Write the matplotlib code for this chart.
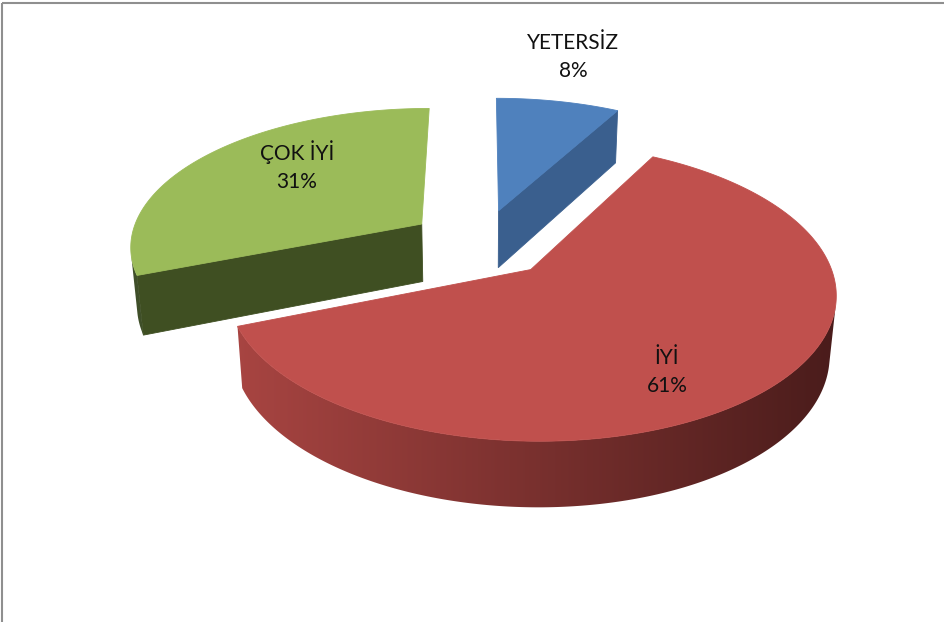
import numpy
import matplotlib
matplotlib.use('Agg')
from matplotlib import pyplot
from matplotlib.patches import Polygon, Rectangle

# data (clockwise from 12 o'clock)
CATEGORIES = ['YETERSİZ', 'İYİ', 'ÇOK İYİ']
PERCENTS = [8, 61, 31]
PCT_LABELS = ['8%', '61%', '31%']

# styling
TOP_COLORS = ['#4F81BD', '#C0504D', '#9BBB59']
WALL_LIGHT = ['#3B6192', '#A94542', '#40502A']
WALL_DARK = ['#2F4E76', '#4A1C1B', '#3B4A20']
SIDE_COLORS = ['#3A5F8E', '#8A3835', '#3F4F22']
LABEL_POS = [(573, 57), (667, 372), (297, 166)]

# view / geometry (pixel space of a 944x622 canvas)
CX, CY = 481.0, 243.0
FOCAL = 1755.0
DIST = 6.0
ELEV = numpy.radians(28.1)
EXPLODE = 0.25
THICK = 0.23

S, C = numpy.sin(ELEV), numpy.cos(ELEV)
CAM = numpy.array([0.0, -DIST * C, DIST * S])


def project(X, Y, Z):
    X, Y, Z = numpy.asarray(X), numpy.asarray(Y), numpy.asarray(Z)
    w = DIST + Y * C - Z * S
    return CX + FOCAL * X / w, CY - FOCAL * (Y * S + Z * C) / w


def _blend(c1, c2, t):
    a = numpy.array(matplotlib.colors.to_rgb(c1))
    b = numpy.array(matplotlib.colors.to_rgb(c2))
    return a * (1 - t) + b * t


def _facing(normal, point):
    v = CAM - point
    return normal.dot(v) / numpy.linalg.norm(v)


def draw_slice(ax, a0, a1, i):
    mid = (a0 + a1) / 2
    ox, oy = EXPLODE * numpy.sin(mid), EXPLODE * numpy.cos(mid)

    # radial walls that face the camera
    for a, sign in ((a0, -1), (a1, 1)):
        na = a + sign * numpy.pi / 2
        normal = numpy.array([numpy.sin(na), numpy.cos(na), 0.0])
        mid_pt = numpy.array([ox + 0.5 * numpy.sin(a), oy + 0.5 * numpy.cos(a), -THICK / 2])
        if _facing(normal, mid_pt) < 0.1:
            continue
        X = [ox, ox + numpy.sin(a), ox + numpy.sin(a), ox]
        Y = [oy, oy + numpy.cos(a), oy + numpy.cos(a), oy]
        Z = [0, 0, -THICK, -THICK]
        xs, ys = project(X, Y, Z)
        ax.add_patch(Polygon(numpy.column_stack([xs, ys]), closed=True,
                             facecolor=SIDE_COLORS[i], edgecolor=SIDE_COLORS[i],
                             linewidth=0.6, zorder=2))

    # outer curved wall, the part facing the camera, shaded left to right
    th = numpy.linspace(a0, a1, max(int(numpy.degrees(a1 - a0)) * 2, 4))
    vis = [t for t in th
           if _facing(numpy.array([numpy.sin(t), numpy.cos(t), 0.0]),
                      numpy.array([ox + numpy.sin(t), oy + numpy.cos(t), -THICK / 2])) > 0]
    if len(vis) >= 2:
        vis = numpy.array(vis)
        tx, ty = project(ox + numpy.sin(vis), oy + numpy.cos(vis), numpy.zeros_like(vis))
        bx, by = project(ox + numpy.sin(vis), oy + numpy.cos(vis), numpy.full_like(vis, -THICK))
        xy = numpy.column_stack([numpy.concatenate([tx, bx[::-1]]),
                                 numpy.concatenate([ty, by[::-1]])])
        wall = Polygon(xy, closed=True, facecolor='none', edgecolor='none')
        ax.add_patch(wall)
        # full width of this slice's ellipse drives the shading
        ring = numpy.linspace(0, 2 * numpy.pi, 360)
        rx, _ = project(ox + numpy.sin(ring), oy + numpy.cos(ring), numpy.zeros_like(ring))
        g = numpy.linspace(0, 1, 256)
        img = numpy.array([[_blend(WALL_LIGHT[i], WALL_DARK[i], v) for v in g]])
        im = ax.imshow(img, extent=(rx.min(), rx.max(), xy[:, 1].max() + 2, xy[:, 1].min() - 2),
                       aspect='auto', interpolation='bilinear', zorder=2)
        im.set_clip_path(wall)

    # top face
    X = numpy.concatenate([[ox], ox + numpy.sin(th)])
    Y = numpy.concatenate([[oy], oy + numpy.cos(th)])
    xs, ys = project(X, Y, numpy.zeros_like(X))
    ax.add_patch(Polygon(numpy.column_stack([xs, ys]), closed=True,
                         facecolor=TOP_COLORS[i], edgecolor=TOP_COLORS[i],
                         linewidth=0.6, zorder=3))


fig = pyplot.figure(figsize=(9.44, 6.22), dpi=100)
ax = fig.add_axes([0, 0, 1, 1])

fracs = numpy.array(PERCENTS, dtype=float) / sum(PERCENTS)
edges = numpy.concatenate([[0], numpy.cumsum(fracs)]) * 2 * numpy.pi

# back slices first, the big front slice last
for i in (0, 2, 1):
    draw_slice(ax, edges[i], edges[i + 1], i)

for i, (x, y) in enumerate(LABEL_POS):
    ax.text(x, y, '%s\n%s' % (CATEGORIES[i], PCT_LABELS[i]), ha='center',
            va='center', fontsize=15, family=['Lato', 'DejaVu Sans'],
            color='#111111', linespacing=1.5, zorder=5)

ax.add_patch(Rectangle((2, 3), 1000, 1000, fill=False, edgecolor='#8f8f8f',
                       linewidth=1.5, zorder=6))

ax.set_xlim(0, 944)
ax.set_ylim(622, 0)
ax.set_aspect('auto')
ax.axis('off')

fig.savefig('out.png', dpi=100)
